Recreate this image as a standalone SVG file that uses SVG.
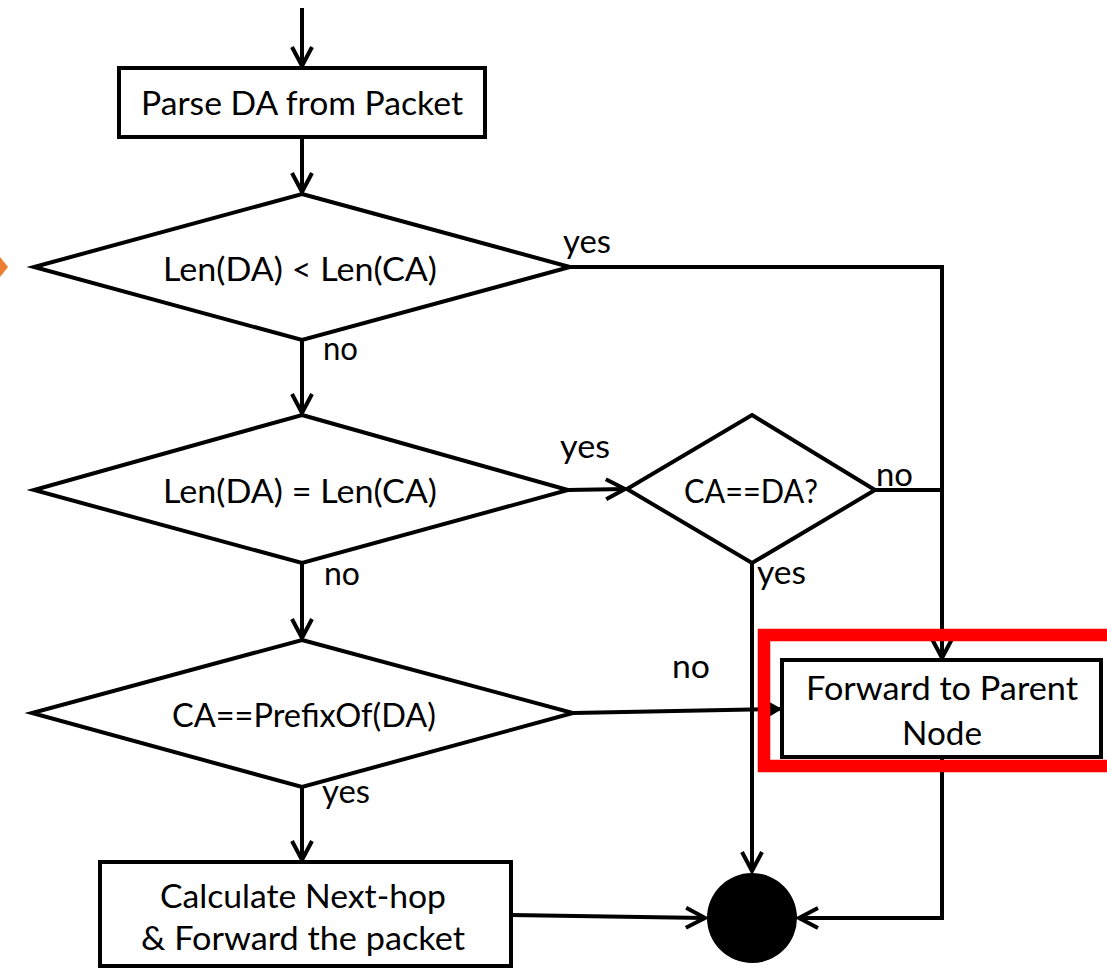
<svg xmlns="http://www.w3.org/2000/svg" width="1107" height="968" viewBox="0 0 1107 968">
  <style>
    .shape { fill: #ffffff; stroke: #000000; stroke-width: 4; stroke-linejoin: miter; }
    .line { fill: none; stroke: #000000; stroke-width: 4; }
    .arrow { marker-end: url(#chevron); }
    .label { font-family: Lato, "Open Sans", "Liberation Sans", sans-serif; font-size: 33px; fill: #000000; }
    .mid { text-anchor: middle; }
  </style>
  <defs>
    <!-- open V-shaped arrowhead -->
    <marker id="chevron" markerUnits="userSpaceOnUse" viewBox="-22 -13 24 26" refX="0" refY="0" markerWidth="24" markerHeight="26" orient="auto" overflow="visible">
      <path d="M-19,-10 L0,0 L-19,10" fill="none" stroke="#000000" stroke-width="4" stroke-linejoin="miter"/>
    </marker>
    <!-- small solid triangle arrowhead -->
    <marker id="solid" markerUnits="userSpaceOnUse" viewBox="-14 -8 15 16" refX="0" refY="0" markerWidth="15" markerHeight="16" orient="auto" overflow="visible">
      <path d="M-12,-7 L0,0 L-12,7 Z" fill="#000000"/>
    </marker>
  </defs>

  <rect x="0" y="0" width="1107" height="968" fill="#ffffff"/>

  <!-- orange bullet tip at the left edge -->
  <polygon points="0,257 8,267 0,277" fill="#ED7D31"/>

  <!-- connectors -->
  <g id="connectors">
    <path class="line arrow" d="M302,8 L302,66"/>
    <path class="line arrow" d="M302,137 L302,192"/>
    <path class="line arrow" d="M302,340 L302,413"/>
    <path class="line arrow" d="M568,267 L942,267 L942,658"/>
    <path class="line arrow" d="M568,490 L625,489"/>
    <path class="line" d="M875,490 L942,490"/>
    <path class="line arrow" d="M752,563 L752,871"/>
    <path class="line arrow" d="M302,563 L302,638"/>
    <path class="line" d="M573,713 L782,709" marker-end="url(#solid)"/>
    <path class="line arrow" d="M302,787 L302,860"/>
    <path class="line arrow" d="M511,915 L705,918"/>
    <path class="line arrow" d="M942,757 L942,918 L799,918"/>
  </g>

  <!-- edge labels -->
  <g id="edge-labels" class="label">
    <text x="563" y="253" textLength="48" lengthAdjust="spacingAndGlyphs">yes</text>
    <text x="323" y="360" textLength="35" lengthAdjust="spacingAndGlyphs">no</text>
    <text x="560" y="458" textLength="50" lengthAdjust="spacingAndGlyphs">yes</text>
    <text x="876" y="486" textLength="37" lengthAdjust="spacingAndGlyphs">no</text>
    <text x="757" y="584" textLength="49" lengthAdjust="spacingAndGlyphs">yes</text>
    <text x="324" y="585" textLength="36" lengthAdjust="spacingAndGlyphs">no</text>
    <text x="672" y="678" textLength="38" lengthAdjust="spacingAndGlyphs">no</text>
    <text x="322" y="803" textLength="48" lengthAdjust="spacingAndGlyphs">yes</text>
  </g>

  <g id="parse-da">
    <rect class="shape" x="119" y="68" width="366" height="69"/>
    <text class="label mid" x="302" y="115" textLength="322" lengthAdjust="spacingAndGlyphs">Parse DA from Packet</text>
  </g>

  <g id="len-less">
    <polygon class="shape" points="302,194 570,267 302,340 34,267"/>
    <text class="label mid" x="300" y="281" textLength="274" lengthAdjust="spacingAndGlyphs">Len(DA) &lt; Len(CA)</text>
  </g>

  <g id="len-equal">
    <polygon class="shape" points="302,415 568,490 302,563 34,490"/>
    <text class="label mid" x="300" y="503" textLength="274" lengthAdjust="spacingAndGlyphs">Len(DA) = Len(CA)</text>
  </g>

  <g id="ca-equals-da">
    <polygon class="shape" points="752,415 875,490 752,563 627,489"/>
    <text class="label mid" x="751" y="503" textLength="134" lengthAdjust="spacingAndGlyphs">CA==DA?</text>
  </g>

  <g id="prefix-check">
    <polygon class="shape" points="302,640 573,713 302,787 32,713"/>
    <text class="label mid" x="304" y="727" textLength="264" lengthAdjust="spacingAndGlyphs">CA==PrefixOf(DA)</text>
  </g>

  <g id="forward-parent">
    <rect class="shape" x="782" y="660" width="319" height="97"/>
    <text class="label mid" x="942" y="700" textLength="272" lengthAdjust="spacingAndGlyphs">Forward to Parent</text>
    <text class="label mid" x="942" y="745" textLength="80" lengthAdjust="spacingAndGlyphs">Node</text>
  </g>

  <!-- red highlight frame -->
  <rect x="764" y="635" width="400" height="131" fill="none" stroke="#FF0000" stroke-width="12.5"/>

  <g id="next-hop">
    <rect class="shape" x="100" y="862" width="411" height="104"/>
    <text class="label mid" x="303" y="908" textLength="286" lengthAdjust="spacingAndGlyphs">Calculate Next-hop</text>
    <text class="label mid" x="303" y="950" textLength="324" lengthAdjust="spacingAndGlyphs">&amp; Forward the packet</text>
  </g>

  <g id="end">
    <circle cx="752" cy="918" r="45" fill="#000000"/>
  </g>
</svg>
